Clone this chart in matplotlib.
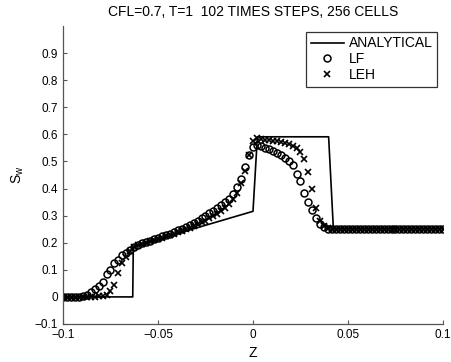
import numpy as np
import matplotlib
matplotlib.use("Agg")
import matplotlib.pyplot as plt

plt.rcParams['font.family'] = ['Liberation Sans', 'DejaVu Sans']
plt.rcParams['mathtext.fontset'] = 'custom'
plt.rcParams['mathtext.rm'] = 'Liberation Sans'
plt.rcParams['mathtext.it'] = 'Liberation Sans'

title = "CFL=0.7, T=1  102 TIMES STEPS, 256 CELLS"

# Analytical solution (breakpoints)
ana_z = [-0.1, -0.0633, -0.0630, 0.0000, 0.0023, 0.0398, 0.0423, 0.1]
ana_s = [0.0, 0.0, 0.186, 0.316, 0.591, 0.591, 0.252, 0.252]

# Numerical solutions on the plotted grid (97 points from -0.1 to 0.1)
z = np.linspace(-0.1, 0.1, 97)

lf = [0.0, 0.0, 0.0, 0.0, 0.001, 0.003, 0.008, 0.018, 0.028, 0.042,
      0.055, 0.083, 0.098, 0.125, 0.137, 0.155, 0.163, 0.174, 0.184, 0.192,
      0.198, 0.203, 0.208, 0.213, 0.218, 0.223, 0.229, 0.234, 0.240, 0.246,
      0.252, 0.259, 0.266, 0.273, 0.281, 0.290, 0.299, 0.308, 0.318, 0.328,
      0.338, 0.350, 0.363, 0.380, 0.405, 0.435, 0.480, 0.525, 0.553, 0.560,
      0.556, 0.551, 0.546, 0.540, 0.532, 0.523, 0.514, 0.503, 0.488, 0.455,
      0.428, 0.385, 0.352, 0.322, 0.290, 0.268, 0.257, 0.252, 0.250, 0.250,
      0.250, 0.250, 0.250, 0.250, 0.250, 0.250, 0.250, 0.250, 0.250, 0.250,
      0.250, 0.250, 0.250, 0.250, 0.250, 0.250, 0.250, 0.250, 0.250, 0.250,
      0.250, 0.250, 0.250, 0.250, 0.250, 0.250, 0.250]

leh = [0.0, 0.0, 0.0, 0.0, 0.0, 0.0, 0.0, 0.0, 0.001, 0.002,
       0.004, 0.008, 0.020, 0.045, 0.088, 0.125, 0.148, 0.170, 0.183, 0.190,
       0.195, 0.200, 0.205, 0.210, 0.214, 0.219, 0.224, 0.229, 0.234, 0.239,
       0.244, 0.250, 0.256, 0.262, 0.268, 0.275, 0.282, 0.290, 0.298, 0.307,
       0.317, 0.328, 0.342, 0.360, 0.385, 0.420, 0.465, 0.525, 0.575, 0.585,
       0.582, 0.580, 0.578, 0.576, 0.574, 0.571, 0.568, 0.563, 0.556, 0.548,
       0.535, 0.510, 0.460, 0.400, 0.330, 0.282, 0.262, 0.254, 0.250, 0.250,
       0.250, 0.250, 0.250, 0.250, 0.250, 0.250, 0.250, 0.250, 0.250, 0.250,
       0.250, 0.250, 0.250, 0.250, 0.250, 0.250, 0.250, 0.250, 0.250, 0.250,
       0.250, 0.250, 0.250, 0.250, 0.250, 0.250, 0.250]

xticks = [-0.1, -0.05, 0, 0.05, 0.1]
xticklabels = ["\u22120.1", "\u22120.05", "0", "0.05", "0.1"]
yticks = [-0.1, 0, 0.1, 0.2, 0.3, 0.4, 0.5, 0.6, 0.7, 0.8, 0.9]
yticklabels = ["\u22120.1", "0", "0.1", "0.2", "0.3", "0.4", "0.5", "0.6", "0.7", "0.8", "0.9"]

fig = plt.figure(figsize=(4.51, 3.62), dpi=100)
ax = fig.add_axes([63/451, 1-324/362, 380/451, 298/362])

ax.plot(ana_z, ana_s, color='black', lw=1.2, label='ANALYTICAL')
ax.plot(z, lf, linestyle='none', marker='o', markersize=5, markerfacecolor='none',
        markeredgecolor='black', markeredgewidth=1.1, label='LF')
ax.plot(z, leh, linestyle='none', marker='x', markersize=4.5,
        markeredgecolor='black', markeredgewidth=1.2, label='LEH')

ax.set_xlim(-0.1, 0.1)
ax.set_ylim(-0.1, 1.0)
ax.set_xticks(xticks)
ax.set_xticklabels(xticklabels)
ax.set_yticks(yticks)
ax.set_yticklabels(yticklabels)
ax.tick_params(direction='in', length=3, labelsize=8.5, color='#555555', width=0.8)
for s in ['top', 'right']:
    ax.spines[s].set_visible(False)
for s in ['left', 'bottom']:
    ax.spines[s].set_color('#555555')
    ax.spines[s].set_linewidth(0.9)

ax.set_title(title, fontsize=10, pad=7)
ax.set_xlabel('Z', fontsize=10, labelpad=4)
ax.set_ylabel(r'S$_\mathrm{w}$', fontsize=10, labelpad=6)

leg = ax.legend(loc='upper right', fontsize=10, frameon=True, fancybox=False,
                edgecolor='black', borderpad=0.35, labelspacing=0.12,
                handlelength=2.4, handletextpad=0.35, borderaxespad=0.4)
leg.get_frame().set_linewidth(0.9)

fig.savefig('out.png', dpi=100)
